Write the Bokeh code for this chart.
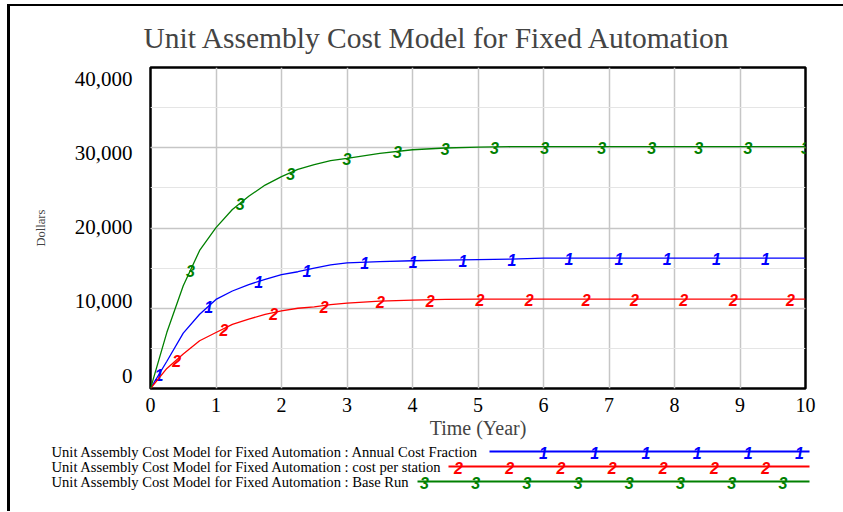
import numpy as np
from bokeh.plotting import figure
from bokeh.models import Range1d, LinearAxis, FixedTicker, Grid, NumeralTickFormatter
from bokeh.layouts import column
from bokeh.embed import file_html
from bokeh.resources import INLINE
from bokeh.core.properties import value

# ---------------- data ----------------
title_text = "Unit Assembly Cost Model for Fixed Automation"
x_label = "Time (Year)"
y_label = "Dollars"
x_ticks = [0, 1, 2, 3, 4, 5, 6, 7, 8, 9, 10]
y_ticks = [0, 10000, 20000, 30000, 40000]

time = [0, 0.25, 0.5, 0.75, 1, 1.25, 1.5, 1.75, 2, 2.25, 2.5, 2.75, 3,
        3.5, 4, 4.5, 5, 5.5, 6, 7, 8, 9, 10]
annual_cost_fraction = [0, 3400, 6900, 9250, 11100, 12150, 12950, 13600, 14200,
                        14550, 15000, 15400, 15650, 15800, 15920, 16000, 16060,
                        16120, 16250, 16250, 16250, 16250, 16250]
cost_per_station = [0, 2500, 4300, 5950, 6980, 8000, 8640, 9250, 9670, 10000,
                    10170, 10450, 10650, 10900, 11020, 11100, 11125, 11125,
                    11125, 11125, 11125, 11125, 11125]
base_run = [0, 7000, 12800, 17200, 20050, 22300, 23950, 25350, 26400, 27300,
            27900, 28400, 28680, 29300, 29750, 29970, 30080, 30130, 30150,
            30150, 30150, 30150, 30150]

marker_t_1 = [0.13, 0.89, 1.65, 2.39, 3.27, 4.01, 4.77, 5.52, 6.39, 7.15, 7.89, 8.64, 9.39]
marker_t_2 = [0.40, 1.12, 1.88, 2.65, 3.51, 4.27, 5.03, 5.78, 6.65, 7.39, 8.14, 8.90, 9.77]
marker_t_3 = [0.61, 1.37, 2.14, 3.00, 3.77, 4.50, 5.25, 6.02, 6.89, 7.65, 8.37, 9.12, 10.0]

legend_labels = [
    "Unit Assembly Cost Model for Fixed Automation : Annual  Cost Fraction",
    "Unit Assembly Cost Model for Fixed Automation : cost per station",
    "Unit Assembly Cost Model for Fixed Automation : Base Run",
]

series = [
    (annual_cost_fraction, marker_t_1, "1", "#0000FF"),
    (cost_per_station, marker_t_2, "2", "#FF0000"),
    (base_run, marker_t_3, "3", "#008000"),
]

SERIF = "Liberation Serif"
SANS = "Liberation Sans"

# ---------------- main chart ----------------
p = figure(width=833, height=440, x_range=Range1d(0, 10), y_range=Range1d(0, 40000),
           output_backend="svg", toolbar_location=None, y_axis_location=None,
           min_border_left=140, min_border_right=38, min_border_top=59,
           min_border_bottom=58, title=title_text)
p.frame_align = False

p.title.text_font = SERIF
p.title.text_font_size = "29.5px"
p.title.text_font_style = "normal"
p.title.align = "left"
p.title.offset = -7
p.title.standoff = 27

p.outline_line_color = "black"
p.outline_line_width = 2.5
p.background_fill_color = "white"
p.border_fill_color = "white"

xa = p.xaxis[0]
xa.ticker = FixedTicker(ticks=x_ticks)
xa.axis_line_color = None
xa.major_tick_out = 0
xa.major_tick_in = 0
xa.minor_tick_line_color = None
xa.major_label_text_font = SERIF
xa.major_label_text_font_size = "20px"
xa.major_label_text_color = "black"
xa.major_label_standoff = 9
xa.axis_label = x_label
xa.axis_label_text_font = SERIF
xa.axis_label_text_font_size = "20px"
xa.axis_label_text_font_style = "normal"
xa.axis_label_standoff = 2

p.xgrid.grid_line_color = "#C6C6C6"
p.xgrid.grid_line_width = 1.5

ygrid = Grid(dimension=1, ticker=FixedTicker(ticks=y_ticks),
             grid_line_color="#C6C6C6", grid_line_width=1.5)
p.add_layout(ygrid)

# y labels sit on their own evenly spaced scale (as in the reference)
p.extra_y_ranges = {"lab": Range1d(-1743, 41569)}
ya = LinearAxis(y_range_name="lab", ticker=FixedTicker(ticks=y_ticks),
                formatter=NumeralTickFormatter(format="0,0"))
ya.axis_line_color = None
ya.major_tick_out = 0
ya.major_tick_in = 0
ya.minor_tick_line_color = None
ya.major_label_text_font = SERIF
ya.major_label_text_font_size = "21px"
ya.major_label_text_color = "black"
ya.major_label_standoff = 18
ya.axis_label = y_label
ya.axis_label_text_font = SERIF
ya.axis_label_text_font_size = "12.5px"
ya.axis_label_text_font_style = "normal"
ya.axis_label_standoff = 24
p.add_layout(ya, "left")

for vals, mts, num, color in series:
    p.line(time, vals, line_color=color, line_width=1.3)
    my = np.interp(mts, time, vals)
    p.text(x=mts, y=list(my), text=[num] * len(mts), text_color=color,
           text_font=value(SANS), text_font_style="bold italic",
           text_font_size="16px", text_align="center", text_baseline="middle",
           y_offset=1)

# ---------------- legend strip (overlaps the chart's bottom border) ----------------
LW, LH = 833, 71
leg = figure(width=LW, height=LH, x_range=Range1d(0, LW), y_range=Range1d(LH, 0),
             x_axis_location=None, y_axis_location=None, min_border=0,
             toolbar_location=None, output_backend="svg", outline_line_color=None)
leg.frame_align = False
leg.grid.grid_line_color = None
leg.background_fill_alpha = 0
leg.border_fill_alpha = 0
leg.styles = {"margin-top": "-6px"}

row_y = [11, 26, 41]
text_x = 41
line_x0 = [479, 438, 407]
line_x1 = 799
mark_x0 = [533, 448, 414]
mark_dx = 51.2

leg.text(x=[text_x] * 3, y=row_y, text=legend_labels, text_font=value(SERIF),
         text_font_size="14.6px", text_baseline="middle", text_color="black")
for i, (vals, mts, num, color) in enumerate(series):
    leg.line([line_x0[i], line_x1], [row_y[i], row_y[i]], line_color=color, line_width=2)
    mx = list(np.arange(mark_x0[i], line_x1 + 1, mark_dx))
    leg.text(x=mx, y=[row_y[i]] * len(mx), text=[num] * len(mx), text_color=color,
             text_font=value(SANS), text_font_style="bold italic",
             text_font_size="16px", text_align="center", text_baseline="middle",
             y_offset=1)

layout = column(p, leg, styles={"border-left": "3px solid black",
                                "border-top": "2px solid black",
                                "margin-left": "7px",
                                "margin-top": "4px"})

open("out.html", "w").write(file_html(layout, INLINE))
